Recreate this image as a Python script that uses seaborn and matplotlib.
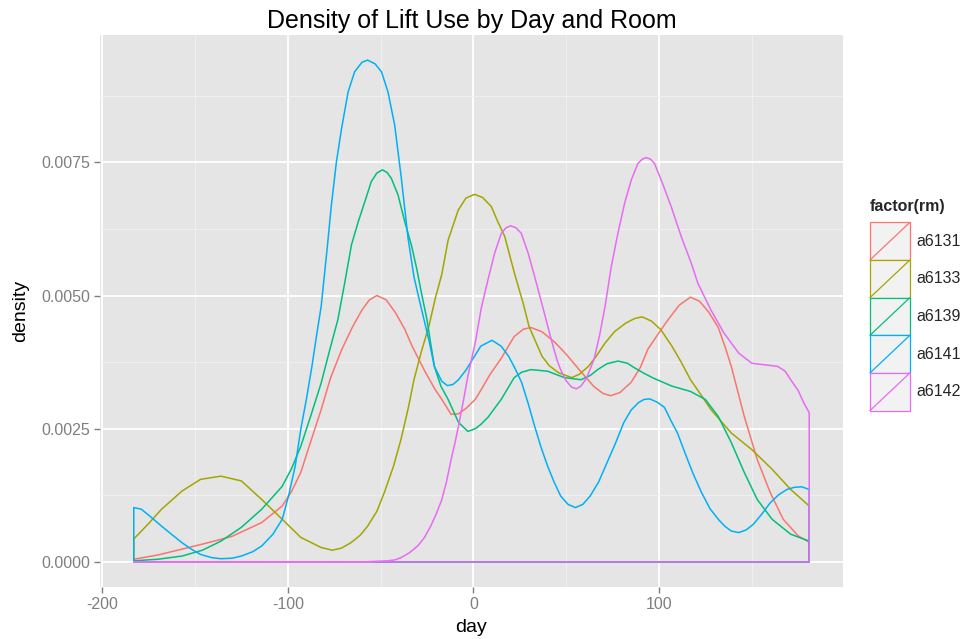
import matplotlib
matplotlib.use("Agg")
import matplotlib.pyplot as plt
import seaborn as sns
import pandas as pd
from matplotlib.patches import Rectangle
from matplotlib.lines import Line2D
from matplotlib.legend_handler import HandlerBase

# ---------------- data ----------------
DAY_MIN = -183
DAY_MAX = 181

rooms = ["a6131", "a6133", "a6139", "a6141", "a6142"]
room_colors = ["#F8766D", "#A3A500", "#00BF7D", "#00B0F6", "#E76BF3"]

a6131_day = [-183, -170, -157, -143, -130, -114, -103, -98, -93, -88, -82, -77, -71, -65, -60, -56, -52,
             -47, -42, -37, -33, -26, -21, -17, -12, -8, -4, 1, 4, 9, 15, 22, 27, 31, 37, 44, 50, 57, 65,
             70, 74, 79, 85, 90, 94, 100, 105, 111, 117, 122, 127, 132, 136, 139, 146, 153, 160, 167,
             175, 181]
a6131_dens = [0.00005, 0.00013, 0.00024, 0.00036, 0.00048, 0.00074, 0.00105, 0.00132, 0.00168, 0.00222,
              0.00286, 0.00345, 0.00398, 0.00442, 0.00473, 0.00492, 0.00500, 0.00492, 0.00468, 0.00437,
              0.00405, 0.00357, 0.00326, 0.00305, 0.00277, 0.00278, 0.00288, 0.00305, 0.00322, 0.00352,
              0.00382, 0.00423, 0.00437, 0.00440, 0.00432, 0.00412, 0.00390, 0.00361, 0.00329, 0.00316,
              0.00312, 0.00318, 0.00337, 0.00365, 0.00399, 0.00430, 0.00455, 0.00482, 0.00497, 0.00489,
              0.00468, 0.00440, 0.00400, 0.00367, 0.00273, 0.00192, 0.00130, 0.00080, 0.00049, 0.00037]

a6133_day = [-183, -175, -168, -157, -147, -136, -125, -114, -103, -93, -82, -76, -71, -66, -61, -57,
             -52, -48, -43, -39, -35, -32, -28, -24, -20.5, -17, -13.6, -8.2, -4, 0.7, 5, 9.7, 13, 16.9,
             22.3, 26.8, 30, 37, 41, 46, 53, 57, 62, 66, 71, 76, 82, 87, 91, 96, 101, 107, 112, 117, 123,
             128, 139, 150, 161, 171, 181]
a6133_dens = [0.00043, 0.00072, 0.00099, 0.00133, 0.00155, 0.00161, 0.00152, 0.00117, 0.00080, 0.00046,
              0.00027, 0.00022, 0.00026, 0.00036, 0.00050, 0.00067, 0.00095, 0.00130, 0.00180, 0.00230,
              0.00290, 0.00342, 0.00395, 0.00442, 0.00495, 0.00540, 0.00604, 0.00660, 0.00683, 0.00690,
              0.00684, 0.00667, 0.00640, 0.00611, 0.00540, 0.00486, 0.00442, 0.00386, 0.00368, 0.00355,
              0.00346, 0.00352, 0.00367, 0.00385, 0.00411, 0.00432, 0.00448, 0.00457, 0.00460, 0.00452,
              0.00436, 0.00405, 0.00375, 0.00342, 0.00312, 0.00286, 0.00242, 0.00211, 0.00174, 0.00136,
              0.00105]

a6139_day = [-183, -170, -157, -146, -136, -125, -114, -103, -98, -93, -88, -82, -78, -73, -69, -65.7,
             -62, -58.5, -55, -52, -49, -46.5, -44.2, -40.6, -37, -33.4, -30.5, -28, -25, -23, -21, -17.5,
             -13.6, -8, -3, 1, 4, 8, 15, 22, 26, 31, 40, 49, 58, 63, 67, 72, 78, 83, 87, 92, 97, 107, 117,
             125, 132, 139, 146, 153, 161, 171, 181]
a6139_dens = [0.00002, 0.00005, 0.00011, 0.00022, 0.00039, 0.00065, 0.00099, 0.00142, 0.00175, 0.00217,
              0.00270, 0.00336, 0.00390, 0.00455, 0.00530, 0.00595, 0.00639, 0.00676, 0.00714, 0.00730,
              0.00736, 0.00731, 0.00720, 0.00689, 0.00639, 0.00595, 0.00550, 0.00505, 0.00455, 0.00410,
              0.00367, 0.00330, 0.00305, 0.00262, 0.00245, 0.00250, 0.00258, 0.00272, 0.00305, 0.00346,
              0.00356, 0.00361, 0.00358, 0.00346, 0.00342, 0.00350, 0.00361, 0.00372, 0.00377, 0.00373,
              0.00364, 0.00354, 0.00345, 0.00330, 0.00320, 0.00305, 0.00273, 0.00224, 0.00168, 0.00117,
              0.00080, 0.00052, 0.00039]

a6141_day = [-183, -179, -174, -168, -162, -157, -152, -147, -141, -136, -130, -125, -119, -114, -108,
             -103, -99.5, -96, -93, -90, -87, -84.5, -82, -78.6, -76.5, -73.8, -71, -67.5, -64, -60, -57,
             -53, -49.5, -46, -42.4, -38.8, -35.2, -32, -29, -24, -21, -17, -14, -11, -8, -4, -1, 4, 10,
             15, 19, 22.5, 26, 29.5, 33, 36.5, 40, 43.5, 47, 51, 55, 59, 63, 67.5, 72, 76.5, 81, 85, 89,
             92, 95, 99, 103, 106.5, 110, 114, 118.5, 123, 127.5, 132, 135.5, 139, 143, 147, 151, 155.5,
             160, 164.5, 169, 173, 177, 181]
a6141_dens = [0.00102, 0.00099, 0.00085, 0.00067, 0.00050, 0.00036, 0.00024, 0.00014, 0.00008, 0.00006,
              0.00007, 0.00011, 0.00019, 0.00030, 0.00052, 0.00080, 0.00125, 0.00180, 0.00249, 0.00305,
              0.00367, 0.00425, 0.00480, 0.00595, 0.00670, 0.00751, 0.00814, 0.00882, 0.00920, 0.00938,
              0.00942, 0.00935, 0.00920, 0.00882, 0.00820, 0.00720, 0.00608, 0.00535, 0.00490, 0.00417,
              0.00367, 0.00339, 0.00331, 0.00333, 0.00342, 0.00360, 0.00377, 0.00405, 0.00416, 0.00405,
              0.00386, 0.00363, 0.00337, 0.00298, 0.00255, 0.00215, 0.00180, 0.00150, 0.00124, 0.00108,
              0.00102, 0.00108, 0.00124, 0.00150, 0.00186, 0.00222, 0.00261, 0.00285, 0.00299, 0.00305,
              0.00306, 0.00300, 0.00290, 0.00265, 0.00242, 0.00205, 0.00165, 0.00130, 0.00100, 0.00080,
              0.00067, 0.00058, 0.00055, 0.00060, 0.00071, 0.00090, 0.00111, 0.00126, 0.00136, 0.00140,
              0.00141, 0.00136]

a6142_day = [-183, -60, -46, -42, -39, -34.5, -30, -26.5, -23, -20, -17, -14.5, -12, -10, -8, -5.5, -3,
             -1, 1, 4.3, 7.9, 11.5, 15.1, 17.5, 20.1, 23, 25.8, 29.5, 33, 37.5, 42, 45, 47, 50, 53, 55.5,
             58, 61, 65, 68, 71, 74.3, 77.9, 81.5, 85.1, 88.7, 91, 93.2, 95.5, 97.6, 102, 106.6, 112,
             117.4, 121, 128, 135, 143, 150, 157, 164, 168, 171, 175, 178, 181]
a6142_dens = [0.0, 0.0, 0.00002, 0.00004, 0.00008, 0.00017, 0.00030, 0.00045, 0.00067, 0.00090, 0.00117,
              0.00150, 0.00192, 0.00222, 0.00255, 0.00300, 0.00348, 0.00380, 0.00411, 0.00477, 0.00530,
              0.00580, 0.00617, 0.00627, 0.00631, 0.00627, 0.00617, 0.00580, 0.00536, 0.00477, 0.00417,
              0.00380, 0.00361, 0.00340, 0.00328, 0.00325, 0.00330, 0.00345, 0.00380, 0.00425, 0.00480,
              0.00554, 0.00617, 0.00673, 0.00717, 0.00748, 0.00756, 0.00759, 0.00756, 0.00748, 0.00710,
              0.00667, 0.00611, 0.00561, 0.00523, 0.00473, 0.00430, 0.00392, 0.00373, 0.00370, 0.00367,
              0.00358, 0.00342, 0.00322, 0.00299, 0.00280]

x_ticks = [-200, -100, 0, 100]
x_tick_labels = ["-200", "-100", "0", "100"]
y_ticks = [0.0, 0.0025, 0.0050, 0.0075]
y_tick_labels = ["0.0000", "0.0025", "0.0050", "0.0075"]
x_minor = [-150, -50, 50, 150]
y_minor = [0.00125, 0.00375, 0.00625, 0.00875]

series = {
    "a6131": (a6131_day, a6131_dens),
    "a6133": (a6133_day, a6133_dens),
    "a6139": (a6139_day, a6139_dens),
    "a6141": (a6141_day, a6141_dens),
    "a6142": (a6142_day, a6142_dens),
}

# closed density outlines, like ggplot's geom_density polygon
rows = []
for rm in rooms:
    days, dens = series[rm]
    pts = [(DAY_MIN, 0.0)] + list(zip(days, dens)) + [(DAY_MAX, 0.0), (DAY_MIN, 0.0)]
    for i, (d, v) in enumerate(pts):
        rows.append({"rm": rm, "order": i, "day": d, "density": v})
df = pd.DataFrame(rows)

# ---------------- style ----------------
sns.set_theme(style="darkgrid", rc={
    "axes.facecolor": "#E5E5E5",
    "grid.color": "white",
    "axes.edgecolor": "#E5E5E5",
})
plt.rcParams["font.family"] = ["Liberation Sans", "DejaVu Sans"]

fig = plt.figure(figsize=(9.66, 6.39), dpi=100)
ax = fig.add_axes([100 / 966, 1 - 587 / 639, (843 - 100) / 966, (587 - 35) / 639])

palette = dict(zip(rooms, room_colors))
sns.lineplot(data=df, x="day", y="density", hue="rm", units="rm", estimator=None, sort=False,
             palette=palette, hue_order=rooms, linewidth=1.1, legend=False, ax=ax)

rng = DAY_MAX - DAY_MIN
ax.set_xlim(DAY_MIN - 0.05 * rng, DAY_MAX + 0.05 * rng)
ymax = max(max(v) for _, v in series.values())
ax.set_ylim(-0.05 * ymax, ymax * 1.05)

ax.set_xticks(x_ticks)
ax.set_xticklabels(x_tick_labels)
ax.set_yticks(y_ticks)
ax.set_yticklabels(y_tick_labels)
ax.set_xticks(x_minor, minor=True)
ax.set_yticks(y_minor, minor=True)
ax.grid(which="major", color="white", linewidth=1.3)
ax.grid(which="minor", color="#F2F2F2", linewidth=0.6)
ax.set_axisbelow(True)
for s in ax.spines.values():
    s.set_visible(False)
ax.tick_params(axis="both", which="major", direction="out", length=4, width=1,
               color="#7F7F7F", labelcolor="#7F7F7F", labelsize=11.5, pad=3,
               bottom=True, left=True)
ax.tick_params(axis="both", which="minor", length=0)

ax.set_xlabel("day", fontsize=14, color="black", labelpad=5)
ax.set_ylabel("density", fontsize=14, color="black", labelpad=9)
ax.set_title("Density of Lift Use by Day and Room", fontsize=18, color="black", pad=5)


# legend with ggplot-like keys
class KeyHandler(HandlerBase):
    def create_artists(self, legend, orig_handle, xdescent, ydescent, width, height, fontsize, trans):
        c = orig_handle.get_color()
        x0, y0 = -xdescent, -ydescent
        r = Rectangle((x0, y0), width, height, facecolor="#F2F2F2", edgecolor=c, lw=0.9, transform=trans)
        ln = Line2D([x0, x0 + width], [y0, y0 + height], color=c, lw=0.9, transform=trans)
        return [r, ln]


handles = [Line2D([], [], color=c) for c in room_colors]
leg = fig.legend(handles, rooms, handler_map={Line2D: KeyHandler()},
                 title="factor(rm)", loc="upper left", bbox_to_anchor=(862 / 966, 1 - 191 / 639),
                 frameon=False, fontsize=11.5, title_fontsize=11.5,
                 handlelength=2.5, handleheight=3.25, labelspacing=0.0, handletextpad=0.4,
                 borderpad=0.0, alignment="left")
leg.get_title().set_fontweight("bold")
leg._legend_box.sep = 6

fig.savefig("out.png", dpi=100)
